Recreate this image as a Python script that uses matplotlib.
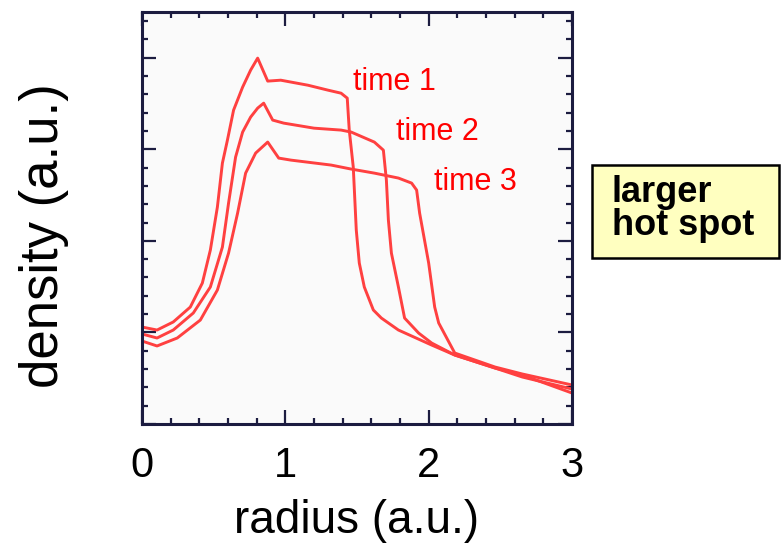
import numpy as np
import matplotlib
matplotlib.use("Agg")
import matplotlib.pyplot as plt
from matplotlib.patches import Rectangle
from matplotlib.ticker import MultipleLocator

plt.rcParams['font.family'] = ['Liberation Sans', 'DejaVu Sans']

# density profiles (radius, density), arbitrary units
r1 = [0.0, 0.105, 0.218, 0.337, 0.421, 0.477, 0.526, 0.561, 0.596, 0.639, 0.702, 0.758, 0.807,
      0.877, 0.968, 1.158, 1.298, 1.389, 1.432, 1.446, 1.474, 1.495, 1.516, 1.551, 1.614, 1.670,
      1.789, 2.021, 2.182, 2.463, 2.653, 3.0]
d1 = [1.059, 1.026, 1.114, 1.277, 1.539, 1.900, 2.369, 2.849, 3.100, 3.428, 3.679, 3.865, 3.996,
      3.745, 3.755, 3.700, 3.646, 3.613, 3.559, 3.210, 2.806, 2.118, 1.758, 1.496, 1.245, 1.157,
      1.026, 0.862, 0.753, 0.611, 0.535, 0.338]

r2 = [0.0, 0.105, 0.218, 0.358, 0.477, 0.561, 0.604, 0.653, 0.702, 0.758, 0.807, 0.849, 0.912,
      0.989, 1.200, 1.389, 1.460, 1.621, 1.684, 1.705, 1.719, 1.740, 1.789, 1.832, 1.930, 2.021,
      2.182, 2.463, 2.653, 3.0]
d2 = [0.983, 0.939, 1.026, 1.212, 1.496, 1.932, 2.413, 2.915, 3.188, 3.352, 3.450, 3.504, 3.319,
      3.286, 3.231, 3.210, 3.188, 3.079, 2.991, 2.664, 2.227, 1.867, 1.496, 1.157, 0.993, 0.884,
      0.753, 0.611, 0.513, 0.382]

r3 = [0.0, 0.105, 0.246, 0.407, 0.526, 0.604, 0.667, 0.723, 0.793, 0.877, 0.954, 1.039, 1.319,
      1.460, 1.621, 1.789, 1.881, 1.916, 1.937, 2.000, 2.042, 2.070, 2.182, 2.463, 2.653, 3.0]
d3 = [0.906, 0.852, 0.939, 1.135, 1.463, 1.867, 2.303, 2.740, 2.959, 3.079, 2.904, 2.882, 2.828,
      2.784, 2.740, 2.686, 2.631, 2.555, 2.303, 1.758, 1.277, 1.103, 0.775, 0.622, 0.546, 0.426]

labels = ['time 1', 'time 2', 'time 3']
label_pos = [(1.474, 3.646), (1.775, 3.10), (2.035, 2.555)]
xticks = [0, 1, 2, 3]

fig = plt.figure(figsize=(7.81, 5.47), dpi=100)
ax = fig.add_axes([0.1818, 0.2249, 0.5506, 0.7532])
ax.set_facecolor('#fafafa')

for r, d in [(r1, d1), (r2, d2), (r3, d3)]:
    ax.plot(r, d, color='#ff4040', lw=2.1, solid_joinstyle='round', solid_capstyle='round')

for lab, (x, y) in zip(labels, label_pos):
    ax.text(x, y, lab, color='#ff0000', fontsize=22, va='baseline', ha='left')

ax.set_xlim(0, 3)
ax.set_ylim(0, 4.5)
ax.set_xticks(xticks)
ax.xaxis.set_minor_locator(MultipleLocator(0.2))
ax.yaxis.set_major_locator(MultipleLocator(1))
ax.yaxis.set_minor_locator(MultipleLocator(0.2))

spine_col = '#1c1c40'
for s in ax.spines.values():
    s.set_color(spine_col)
    s.set_linewidth(2.2)
ax.tick_params(which='both', direction='in', top=True, right=True, color=spine_col, width=1.6)
ax.tick_params(which='major', length=10)
ax.tick_params(which='minor', length=4.5)
ax.tick_params(axis='x', labelsize=30, pad=16)
ax.tick_params(axis='y', labelleft=False)

ax.set_xlabel('radius (a.u.)', fontsize=33, labelpad=9)
ax.set_ylabel('density (a.u.)', fontsize=38)
ax.yaxis.set_label_coords(-0.17, 0.456)

# yellow note box at the right
W, H = 781, 547
fig.patches.append(Rectangle((592 / W, 1 - 258 / H), (779 - 592) / W, (258 - 165) / H,
                             transform=fig.transFigure, facecolor='#ffffc0',
                             edgecolor='black', lw=1.8))
fig.text(612 / W, 1 - 202 / H, 'larger', fontsize=26, fontweight='bold', va='baseline')
fig.text(612 / W, 1 - 235 / H, 'hot spot', fontsize=26, fontweight='bold', va='baseline')

fig.savefig('out.png', dpi=100)
